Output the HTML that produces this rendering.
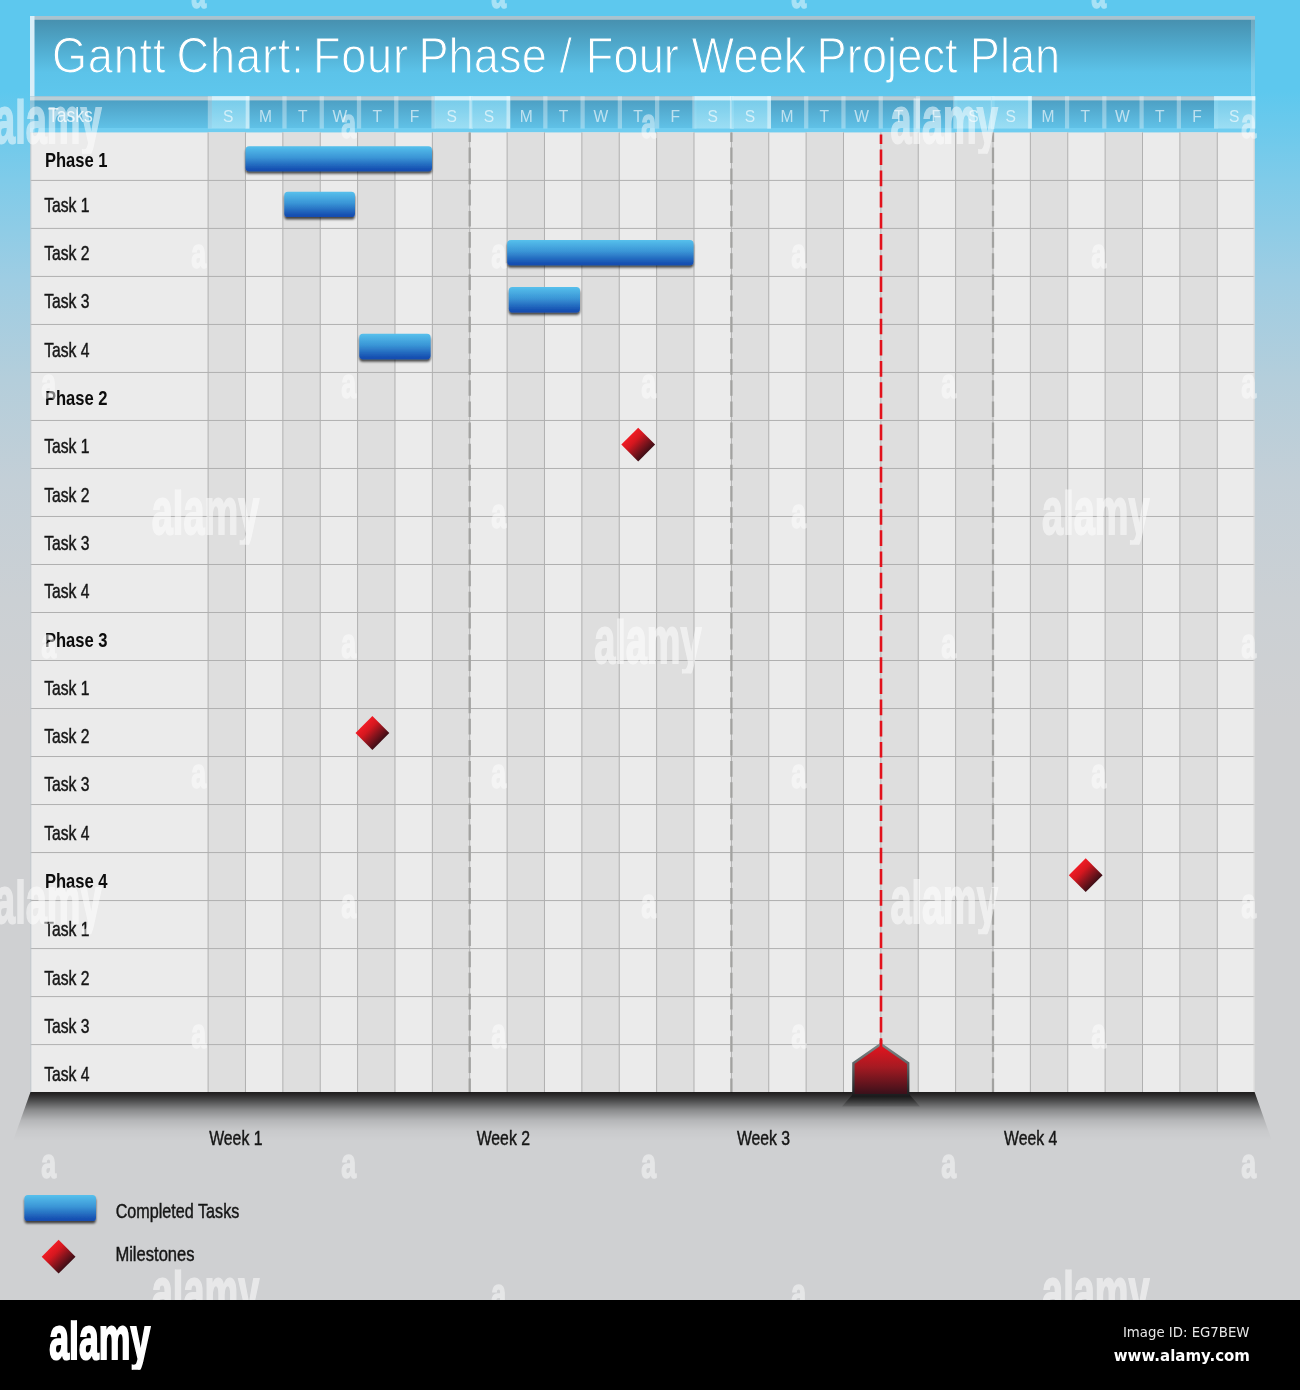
<!DOCTYPE html>
<html lang="en"><head><meta charset="utf-8">
<title>Gantt Chart: Four Phase / Four Week Project Plan</title>
<style>
html,body{margin:0;padding:0;background:#000;}
body{width:1300px;height:1390px;position:relative;overflow:hidden;font-family:"Liberation Sans",sans-serif;}
#bg{position:absolute;left:0;top:0;width:1300px;height:1300px;
background:linear-gradient(to bottom,#5dc8ee 0px,#5dc8ee 90px,#7fcbe9 180px,#9ecde3 280px,#b4cedb 380px,#c3cfd7 480px,#cbd0d4 600px,#cfd0d2 720px,#cfd0d2 1300px);}
svg{position:absolute;left:0;top:0;}
text{font-family:"Liberation Sans",sans-serif;}
.lab{font-size:20px;fill:#161616;stroke:#161616;stroke-width:.45px;}
.labb{font-size:20px;font-weight:bold;fill:#0c0c0c;}
.day{font-size:15.6px;fill:#fff;fill-opacity:.62;text-anchor:middle;}
#foot{position:absolute;left:0;top:1300px;width:1300px;height:90px;background:#000;}
</style></head><body>
<div id="bg"></div>
<svg width="1300" height="1390" viewBox="0 0 1300 1390">
<defs>
<linearGradient id="gTitle" x1="0" y1="0" x2="0" y2="1"><stop offset="0" stop-color="#468dab"/><stop offset=".35" stop-color="#4fa8cb"/><stop offset=".7" stop-color="#5cc3e9"/><stop offset="1" stop-color="#5ec7ed"/></linearGradient>
<linearGradient id="gTitleS" gradientUnits="userSpaceOnUse" x1="0" y1="-56.7" x2="0" y2="23.8"><stop offset="0" stop-color="#468dab"/><stop offset=".35" stop-color="#4fa8cb"/><stop offset=".7" stop-color="#5cc3e9"/><stop offset="1" stop-color="#5ec7ed"/></linearGradient>
<linearGradient id="gWk" x1="0" y1="0" x2="0" y2="1"><stop offset="0" stop-color="#79d0ee"/><stop offset="1" stop-color="#a4e2f6"/></linearGradient>
<linearGradient id="gHead" x1="0" y1="0" x2="0" y2="1"><stop offset="0" stop-color="#4a9bbf"/><stop offset="1" stop-color="#63c6ec"/></linearGradient>
<linearGradient id="gBar" x1="0" y1="0" x2="0" y2="1"><stop offset="0" stop-color="#56c0ec"/><stop offset=".45" stop-color="#3a95d6"/><stop offset=".9" stop-color="#1753b3"/><stop offset="1" stop-color="#114bb0"/></linearGradient>
<linearGradient id="gDia" x1=".25" y1=".25" x2=".75" y2=".75"><stop offset="0" stop-color="#f01b24"/><stop offset=".3" stop-color="#d5171f"/><stop offset=".62" stop-color="#8c141d"/><stop offset="1" stop-color="#3e0e16"/></linearGradient>
<linearGradient id="gMark" x1="0" y1="0" x2="0" y2="1"><stop offset="0" stop-color="#e8141e"/><stop offset=".45" stop-color="#a51a22"/><stop offset="1" stop-color="#35101a"/></linearGradient>
<linearGradient id="gMarkS" x1="0" y1="0" x2="0" y2="1"><stop offset="0" stop-color="#7d8888"/><stop offset=".45" stop-color="#5a6062"/><stop offset="1" stop-color="#1c1c1e"/></linearGradient>
<linearGradient id="gMarkC" x1="0" y1="0" x2="0" y2="1"><stop offset="0" stop-color="#000" stop-opacity=".55"/><stop offset="1" stop-color="#000" stop-opacity=".12"/></linearGradient>
<linearGradient id="gShadow" x1="0" y1="0" x2="0" y2="1"><stop offset="0" stop-color="#0a0808" stop-opacity=".9"/><stop offset=".05" stop-color="#0a0808" stop-opacity=".84"/><stop offset=".165" stop-color="#000" stop-opacity=".645"/><stop offset=".37" stop-color="#000" stop-opacity=".33"/><stop offset=".58" stop-color="#000" stop-opacity=".125"/><stop offset=".78" stop-color="#000" stop-opacity=".035"/><stop offset="1" stop-color="#000" stop-opacity="0"/></linearGradient>
<clipPath id="cW" clipPathUnits="userSpaceOnUse"><rect x="-20" y="-44.2" width="400" height="55.2"/></clipPath>
<filter id="ds" x="-5%" y="-20%" width="110%" height="160%"><feDropShadow dx="0" dy="2.4" stdDeviation="1.3" flood-color="#000" flood-opacity=".7"/></filter>
</defs>

<rect x="30" y="16" width="1225" height="80.5" fill="url(#gTitle)"/>
<rect x="30" y="16" width="1225" height="3.8" fill="#a9c3cf"/>
<rect x="30" y="16" width="4.5" height="80.5" fill="#d9eef8"/>
<rect x="1251" y="19.8" width="4" height="76" fill="#fff" fill-opacity=".22"/>
<text transform="translate(0 72.7) scale(0.903 1)" font-size="50" fill="#fff" stroke="url(#gTitleS)" stroke-width="1.1"><tspan x="57.59" letter-spacing="0.85">Gantt</tspan> <tspan x="195.46" letter-spacing="0.95">Chart:</tspan> <tspan x="346.62" letter-spacing="0.8">Four</tspan> <tspan x="463.34" letter-spacing="0.1">Phase</tspan> <tspan x="619.71">/</tspan> <tspan x="648.73" letter-spacing="0.1">Four</tspan> <tspan x="765.89" letter-spacing="0.1">Week</tspan> <tspan x="904.32" letter-spacing="0.1">Project</tspan> <tspan x="1073.98">Plan</tspan></text>
<rect x="30" y="96.2" width="1225" height="36" fill="url(#gHead)"/>
<rect x="30" y="96.2" width="1225" height="4.2" fill="#b9ced6"/>
<rect x="30" y="128" width="1225" height="4.2" fill="#6fcdf0"/>
<rect x="30" y="96.2" width="4.5" height="36" fill="#fff" fill-opacity=".35"/>
<rect x="207.8" y="96.2" width="4.3" height="32.3" fill="#fff" fill-opacity=".34"/>
<rect x="245.07" y="96.2" width="4.3" height="32.3" fill="#fff" fill-opacity=".34"/>
<rect x="282.34" y="96.2" width="4.29" height="32.3" fill="#fff" fill-opacity=".34"/>
<rect x="319.6" y="96.2" width="4.29" height="32.3" fill="#fff" fill-opacity=".34"/>
<rect x="356.87" y="96.2" width="4.28" height="32.3" fill="#fff" fill-opacity=".34"/>
<rect x="394.14" y="96.2" width="4.28" height="32.3" fill="#fff" fill-opacity=".34"/>
<rect x="431.41" y="96.2" width="4.28" height="32.3" fill="#fff" fill-opacity=".34"/>
<rect x="468.68" y="96.2" width="4.27" height="32.3" fill="#fff" fill-opacity=".34"/>
<rect x="505.94" y="96.2" width="4.27" height="32.3" fill="#fff" fill-opacity=".34"/>
<rect x="543.21" y="96.2" width="4.26" height="32.3" fill="#fff" fill-opacity=".34"/>
<rect x="580.48" y="96.2" width="4.26" height="32.3" fill="#fff" fill-opacity=".34"/>
<rect x="617.75" y="96.2" width="4.26" height="32.3" fill="#fff" fill-opacity=".34"/>
<rect x="655.02" y="96.2" width="4.25" height="32.3" fill="#fff" fill-opacity=".34"/>
<rect x="692.28" y="96.2" width="4.25" height="32.3" fill="#fff" fill-opacity=".34"/>
<rect x="729.55" y="96.2" width="4.24" height="32.3" fill="#fff" fill-opacity=".34"/>
<rect x="766.82" y="96.2" width="4.24" height="32.3" fill="#fff" fill-opacity=".34"/>
<rect x="804.09" y="96.2" width="4.24" height="32.3" fill="#fff" fill-opacity=".34"/>
<rect x="841.36" y="96.2" width="4.23" height="32.3" fill="#fff" fill-opacity=".34"/>
<rect x="878.62" y="96.2" width="4.23" height="32.3" fill="#fff" fill-opacity=".34"/>
<rect x="915.89" y="96.2" width="4.22" height="32.3" fill="#fff" fill-opacity=".34"/>
<rect x="953.16" y="96.2" width="4.22" height="32.3" fill="#fff" fill-opacity=".34"/>
<rect x="990.43" y="96.2" width="4.22" height="32.3" fill="#fff" fill-opacity=".34"/>
<rect x="1027.7" y="96.2" width="4.21" height="32.3" fill="#fff" fill-opacity=".34"/>
<rect x="1064.96" y="96.2" width="4.21" height="32.3" fill="#fff" fill-opacity=".34"/>
<rect x="1102.23" y="96.2" width="4.2" height="32.3" fill="#fff" fill-opacity=".34"/>
<rect x="1139.5" y="96.2" width="4.2" height="32.3" fill="#fff" fill-opacity=".34"/>
<rect x="1176.77" y="96.2" width="4.2" height="32.3" fill="#fff" fill-opacity=".34"/>
<rect x="1214.04" y="96.2" width="4.19" height="32.3" fill="#fff" fill-opacity=".34"/>
<rect x="211.9" y="96.2" width="37.48" height="32.3" fill="url(#gWk)" fill-opacity=".88"/>
<rect x="211.9" y="96.2" width="37.48" height="4.2" fill="#e6f6fb" fill-opacity=".85"/>
<rect x="245.78" y="96.2" width="3.6" height="32.3" fill="#fff" fill-opacity=".4"/>
<rect x="434.6" y="96.2" width="38.32" height="32.3" fill="url(#gWk)" fill-opacity=".88"/>
<rect x="434.6" y="96.2" width="38.32" height="4.2" fill="#e6f6fb" fill-opacity=".85"/>
<rect x="469.31" y="96.2" width="3.6" height="32.3" fill="#fff" fill-opacity=".4"/>
<rect x="471.71" y="96.2" width="38.46" height="32.3" fill="url(#gWk)" fill-opacity=".88"/>
<rect x="471.71" y="96.2" width="38.46" height="4.2" fill="#e6f6fb" fill-opacity=".85"/>
<rect x="506.57" y="96.2" width="3.6" height="32.3" fill="#fff" fill-opacity=".4"/>
<rect x="694.41" y="96.2" width="39.3" height="32.3" fill="url(#gWk)" fill-opacity=".88"/>
<rect x="694.41" y="96.2" width="39.3" height="4.2" fill="#e6f6fb" fill-opacity=".85"/>
<rect x="730.1" y="96.2" width="3.6" height="32.3" fill="#fff" fill-opacity=".4"/>
<rect x="731.52" y="96.2" width="39.44" height="32.3" fill="url(#gWk)" fill-opacity=".88"/>
<rect x="731.52" y="96.2" width="39.44" height="4.2" fill="#e6f6fb" fill-opacity=".85"/>
<rect x="767.36" y="96.2" width="3.6" height="32.3" fill="#fff" fill-opacity=".4"/>
<rect x="954.22" y="96.2" width="40.28" height="32.3" fill="url(#gWk)" fill-opacity=".88"/>
<rect x="954.22" y="96.2" width="40.28" height="4.2" fill="#e6f6fb" fill-opacity=".85"/>
<rect x="990.9" y="96.2" width="3.6" height="32.3" fill="#fff" fill-opacity=".4"/>
<rect x="991.34" y="96.2" width="40.42" height="32.3" fill="url(#gWk)" fill-opacity=".88"/>
<rect x="991.34" y="96.2" width="40.42" height="4.2" fill="#e6f6fb" fill-opacity=".85"/>
<rect x="1028.15" y="96.2" width="3.6" height="32.3" fill="#fff" fill-opacity=".4"/>
<rect x="1214.03" y="96.2" width="41.26" height="32.3" fill="url(#gWk)" fill-opacity=".88"/>
<rect x="1214.03" y="96.2" width="41.26" height="4.2" fill="#e6f6fb" fill-opacity=".85"/>
<rect x="1251.69" y="96.2" width="3.6" height="32.3" fill="#fff" fill-opacity=".4"/>
<text class="day" x="228.19" y="122.2">S</text>
<text class="day" x="265.45" y="122.2">M</text>
<text class="day" x="302.71" y="122.2">T</text>
<text class="day" x="339.97" y="122.2">W</text>
<text class="day" x="377.23" y="122.2">T</text>
<text class="day" x="414.49" y="122.2">F</text>
<text class="day" x="451.75" y="122.2">S</text>
<text class="day" x="489.01" y="122.2">S</text>
<text class="day" x="526.28" y="122.2">M</text>
<text class="day" x="563.54" y="122.2">T</text>
<text class="day" x="600.8" y="122.2">W</text>
<text class="day" x="638.06" y="122.2">T</text>
<text class="day" x="675.32" y="122.2">F</text>
<text class="day" x="712.58" y="122.2">S</text>
<text class="day" x="749.84" y="122.2">S</text>
<text class="day" x="787.1" y="122.2">M</text>
<text class="day" x="824.36" y="122.2">T</text>
<text class="day" x="861.62" y="122.2">W</text>
<text class="day" x="898.89" y="122.2">T</text>
<text class="day" x="936.15" y="122.2">F</text>
<text class="day" x="973.41" y="122.2">S</text>
<text class="day" x="1010.67" y="122.2">S</text>
<text class="day" x="1047.93" y="122.2">M</text>
<text class="day" x="1085.19" y="122.2">T</text>
<text class="day" x="1122.45" y="122.2">W</text>
<text class="day" x="1159.71" y="122.2">T</text>
<text class="day" x="1196.97" y="122.2">F</text>
<text class="day" x="1234.24" y="122.2">S</text>
<text transform="translate(48 121.5) scale(0.9 1)" font-size="19.5" fill="#fff" fill-opacity=".78">Tasks</text>
<rect x="30.5" y="132.4" width="1224.1" height="960.2" fill="#ebebeb"/>
<rect x="208.1" y="132.4" width="37.38" height="960.2" fill="#dedede"/>
<rect x="282.85" y="132.4" width="37.38" height="960.2" fill="#dedede"/>
<rect x="357.6" y="132.4" width="37.38" height="960.2" fill="#dedede"/>
<rect x="432.36" y="132.4" width="37.38" height="960.2" fill="#dedede"/>
<rect x="507.11" y="132.4" width="37.38" height="960.2" fill="#dedede"/>
<rect x="581.86" y="132.4" width="37.38" height="960.2" fill="#dedede"/>
<rect x="656.61" y="132.4" width="37.38" height="960.2" fill="#dedede"/>
<rect x="731.36" y="132.4" width="37.38" height="960.2" fill="#dedede"/>
<rect x="806.12" y="132.4" width="37.38" height="960.2" fill="#dedede"/>
<rect x="880.87" y="132.4" width="37.38" height="960.2" fill="#dedede"/>
<rect x="955.62" y="132.4" width="37.38" height="960.2" fill="#dedede"/>
<rect x="1030.37" y="132.4" width="37.38" height="960.2" fill="#dedede"/>
<rect x="1105.12" y="132.4" width="37.38" height="960.2" fill="#dedede"/>
<rect x="1179.88" y="132.4" width="37.38" height="960.2" fill="#dedede"/>
<path d="M208.1 132.4V1092.6M245.48 132.4V1092.6M282.85 132.4V1092.6M320.23 132.4V1092.6M357.6 132.4V1092.6M394.98 132.4V1092.6M432.36 132.4V1092.6M469.73 132.4V1092.6M507.11 132.4V1092.6M544.48 132.4V1092.6M581.86 132.4V1092.6M619.24 132.4V1092.6M656.61 132.4V1092.6M693.99 132.4V1092.6M731.36 132.4V1092.6M768.74 132.4V1092.6M806.12 132.4V1092.6M843.49 132.4V1092.6M880.87 132.4V1092.6M918.24 132.4V1092.6M955.62 132.4V1092.6M993 132.4V1092.6M1030.37 132.4V1092.6M1067.75 132.4V1092.6M1105.12 132.4V1092.6M1142.5 132.4V1092.6M1179.88 132.4V1092.6M1217.25 132.4V1092.6M30.5 180.41H1254.6M30.5 228.42H1254.6M30.5 276.43H1254.6M30.5 324.44H1254.6M30.5 372.45H1254.6M30.5 420.46H1254.6M30.5 468.47H1254.6M30.5 516.48H1254.6M30.5 564.49H1254.6M30.5 612.5H1254.6M30.5 660.51H1254.6M30.5 708.52H1254.6M30.5 756.53H1254.6M30.5 804.54H1254.6M30.5 852.55H1254.6M30.5 900.56H1254.6M30.5 948.57H1254.6M30.5 996.58H1254.6M30.5 1044.59H1254.6" stroke="#b0b0b0" stroke-width="1" fill="none"/>
<path d="M30.8 132.4V1092.6" stroke="#bcc4c8" stroke-width="1" fill="none"/>
<path d="M1254.1 132.4V1092.6" stroke="#d6d6d6" stroke-width="1" fill="none"/>
<path d="M469.7 132.4V1092.6" stroke="#a2a2a0" stroke-width="2.3" stroke-dasharray="15.6 5.56" stroke-dashoffset="6.1" fill="none"/>
<path d="M731.4 132.4V1092.6" stroke="#a2a2a0" stroke-width="2.3" stroke-dasharray="15.6 5.56" stroke-dashoffset="6.1" fill="none"/>
<path d="M993 132.4V1092.6" stroke="#a2a2a0" stroke-width="2.3" stroke-dasharray="15.6 5.56" stroke-dashoffset="6.1" fill="none"/>
<text class="labb" transform="translate(44.9 166.5) scale(0.83 1)">Phase 1</text>
<text class="lab" transform="translate(44.2 211.8) scale(0.785 1)">Task 1</text>
<text class="lab" transform="translate(44.2 260.1) scale(0.785 1)">Task 2</text>
<text class="lab" transform="translate(44.2 308.4) scale(0.785 1)">Task 3</text>
<text class="lab" transform="translate(44.2 356.7) scale(0.785 1)">Task 4</text>
<text class="labb" transform="translate(44.9 405) scale(0.83 1)">Phase 2</text>
<text class="lab" transform="translate(44.2 453.3) scale(0.785 1)">Task 1</text>
<text class="lab" transform="translate(44.2 501.6) scale(0.785 1)">Task 2</text>
<text class="lab" transform="translate(44.2 549.9) scale(0.785 1)">Task 3</text>
<text class="lab" transform="translate(44.2 598.2) scale(0.785 1)">Task 4</text>
<text class="labb" transform="translate(44.9 646.5) scale(0.83 1)">Phase 3</text>
<text class="lab" transform="translate(44.2 694.8) scale(0.785 1)">Task 1</text>
<text class="lab" transform="translate(44.2 743.1) scale(0.785 1)">Task 2</text>
<text class="lab" transform="translate(44.2 791.4) scale(0.785 1)">Task 3</text>
<text class="lab" transform="translate(44.2 839.7) scale(0.785 1)">Task 4</text>
<text class="labb" transform="translate(44.9 888) scale(0.83 1)">Phase 4</text>
<text class="lab" transform="translate(44.2 936.3) scale(0.785 1)">Task 1</text>
<text class="lab" transform="translate(44.2 984.6) scale(0.785 1)">Task 2</text>
<text class="lab" transform="translate(44.2 1032.9) scale(0.785 1)">Task 3</text>
<text class="lab" transform="translate(44.2 1081.2) scale(0.785 1)">Task 4</text>
<rect x="245.5" y="146.3" width="186.5" height="25" rx="3.6" ry="3.6" fill="url(#gBar)" filter="url(#ds)"/>
<rect x="284.3" y="191.8" width="70.7" height="25.2" rx="3.6" ry="3.6" fill="url(#gBar)" filter="url(#ds)"/>
<rect x="507.2" y="240" width="186.3" height="25.3" rx="3.6" ry="3.6" fill="url(#gBar)" filter="url(#ds)"/>
<rect x="508.8" y="287" width="71.2" height="25.4" rx="3.6" ry="3.6" fill="url(#gBar)" filter="url(#ds)"/>
<rect x="359.3" y="333.8" width="71.3" height="25.4" rx="3.6" ry="3.6" fill="url(#gBar)" filter="url(#ds)"/>
<rect x="24.4" y="1195" width="71.6" height="26" rx="3.6" ry="3.6" fill="url(#gBar)" filter="url(#ds)"/>
<path d="M881 134.4V1047" stroke="#e2111b" stroke-width="2.6" stroke-dasharray="15.6 5.56" stroke-dashoffset="6.1" fill="none"/>
<polygon points="30.5,1092.1 1254.6,1092.1 1272,1141 13,1141" fill="url(#gShadow)"/>
<polygon points="853,1094 909,1094 920,1106.5 842,1106.5" fill="url(#gMarkC)"/>
<polygon points="880.8,1044 908.2,1063.2 908.2,1095.3 853.4,1095.3 853.4,1063.2" fill="url(#gMark)" stroke="url(#gMarkS)" stroke-width="2.4" stroke-linejoin="miter"/>
<path d="M881 1040V1047" stroke="#e2111b" stroke-width="2.6" fill="none"/>
<polygon points="638.2,427.7 655.1,444.6 638.2,461.5 621.3,444.6" fill="url(#gDia)"/>
<polygon points="372.4,716.1 389.3,733 372.4,749.9 355.5,733" fill="url(#gDia)"/>
<polygon points="1085.7,858.3 1102.6,875.2 1085.7,892.1 1068.8,875.2" fill="url(#gDia)"/>
<polygon points="58.6,1239.8 75.5,1256.7 58.6,1273.6 41.7,1256.7" fill="url(#gDia)"/>
<text class="lab" transform="translate(209.2 1144.7) scale(0.79 1)">Week 1</text>
<text class="lab" transform="translate(476.7 1144.7) scale(0.79 1)">Week 2</text>
<text class="lab" transform="translate(736.9 1144.7) scale(0.79 1)">Week 3</text>
<text class="lab" transform="translate(1004.1 1144.7) scale(0.79 1)">Week 4</text>
<text class="lab" transform="translate(115.7 1217.6) scale(0.808 1)">Completed Tasks</text>
<text class="lab" transform="translate(115.4 1260.6) scale(0.828 1)">Milestones</text>
<g opacity=".52" fill="#fff" stroke="#fff" stroke-width="1.9" font-weight="bold">
<text transform="translate(-5.9 142.7) scale(0.574 1)" font-size="66" clip-path="url(#cW)">alamy</text>
<text transform="translate(890.4 142.7) scale(0.574 1)" font-size="66" clip-path="url(#cW)">alamy</text>
<text transform="translate(151.8 533.8) scale(0.574 1)" font-size="66" clip-path="url(#cW)">alamy</text>
<text transform="translate(1042.1 533.8) scale(0.574 1)" font-size="66" clip-path="url(#cW)">alamy</text>
<text transform="translate(594.2 662.6) scale(0.574 1)" font-size="66" clip-path="url(#cW)">alamy</text>
<text transform="translate(-5.9 923.2) scale(0.574 1)" font-size="66" clip-path="url(#cW)">alamy</text>
<text transform="translate(890.4 923.2) scale(0.574 1)" font-size="66" clip-path="url(#cW)">alamy</text>
<text transform="translate(151.8 1313.8) scale(0.574 1)" font-size="66" clip-path="url(#cW)">alamy</text>
<text transform="translate(1042.1 1313.8) scale(0.574 1)" font-size="66" clip-path="url(#cW)">alamy</text>
</g>
<g opacity=".47" fill="#fff" stroke="#fff" stroke-width="1.6" font-weight="bold">
<text transform="translate(191.3 7.8) scale(0.62 1)" font-size="43">a</text>
<text transform="translate(491.3 7.8) scale(0.62 1)" font-size="43">a</text>
<text transform="translate(791.3 7.8) scale(0.62 1)" font-size="43">a</text>
<text transform="translate(1091.3 7.8) scale(0.62 1)" font-size="43">a</text>
<text transform="translate(191.3 267.9) scale(0.62 1)" font-size="43">a</text>
<text transform="translate(491.3 267.9) scale(0.62 1)" font-size="43">a</text>
<text transform="translate(791.3 267.9) scale(0.62 1)" font-size="43">a</text>
<text transform="translate(1091.3 267.9) scale(0.62 1)" font-size="43">a</text>
<text transform="translate(491.3 528) scale(0.62 1)" font-size="43">a</text>
<text transform="translate(791.3 528) scale(0.62 1)" font-size="43">a</text>
<text transform="translate(191.3 788.2) scale(0.62 1)" font-size="43">a</text>
<text transform="translate(491.3 788.2) scale(0.62 1)" font-size="43">a</text>
<text transform="translate(791.3 788.2) scale(0.62 1)" font-size="43">a</text>
<text transform="translate(1091.3 788.2) scale(0.62 1)" font-size="43">a</text>
<text transform="translate(191.3 1048.3) scale(0.62 1)" font-size="43">a</text>
<text transform="translate(491.3 1048.3) scale(0.62 1)" font-size="43">a</text>
<text transform="translate(791.3 1048.3) scale(0.62 1)" font-size="43">a</text>
<text transform="translate(1091.3 1048.3) scale(0.62 1)" font-size="43">a</text>
<text transform="translate(491.3 1308.4) scale(0.62 1)" font-size="43">a</text>
<text transform="translate(791.3 1308.4) scale(0.62 1)" font-size="43">a</text>
<text transform="translate(341.2 137.9) scale(0.62 1)" font-size="43">a</text>
<text transform="translate(641.2 137.9) scale(0.62 1)" font-size="43">a</text>
<text transform="translate(1241.2 137.9) scale(0.62 1)" font-size="43">a</text>
<text transform="translate(41.2 398) scale(0.62 1)" font-size="43">a</text>
<text transform="translate(341.2 398) scale(0.62 1)" font-size="43">a</text>
<text transform="translate(641.2 398) scale(0.62 1)" font-size="43">a</text>
<text transform="translate(941.2 398) scale(0.62 1)" font-size="43">a</text>
<text transform="translate(1241.2 398) scale(0.62 1)" font-size="43">a</text>
<text transform="translate(41.2 658.1) scale(0.62 1)" font-size="43">a</text>
<text transform="translate(341.2 658.1) scale(0.62 1)" font-size="43">a</text>
<text transform="translate(941.2 658.1) scale(0.62 1)" font-size="43">a</text>
<text transform="translate(1241.2 658.1) scale(0.62 1)" font-size="43">a</text>
<text transform="translate(341.2 918.2) scale(0.62 1)" font-size="43">a</text>
<text transform="translate(641.2 918.2) scale(0.62 1)" font-size="43">a</text>
<text transform="translate(1241.2 918.2) scale(0.62 1)" font-size="43">a</text>
<text transform="translate(41.2 1178.3) scale(0.62 1)" font-size="43">a</text>
<text transform="translate(341.2 1178.3) scale(0.62 1)" font-size="43">a</text>
<text transform="translate(641.2 1178.3) scale(0.62 1)" font-size="43">a</text>
<text transform="translate(941.2 1178.3) scale(0.62 1)" font-size="43">a</text>
<text transform="translate(1241.2 1178.3) scale(0.62 1)" font-size="43">a</text>
</g>
<rect x="0" y="1300" width="1300" height="90" fill="#000"/>
</svg>
<div id="foot">
<svg width="1300" height="90" viewBox="0 1300 1300 90">
<defs><clipPath id="cF" clipPathUnits="userSpaceOnUse"><rect x="-20" y="-39.2" width="400" height="49.6"/></clipPath></defs>
<text transform="translate(49.3 1359.4) scale(0.575 1)" font-size="62" font-weight="bold" fill="#fff" stroke="#fff" stroke-width="2.2" clip-path="url(#cF)">alamy</text>
<text x="1249.5" y="1337" text-anchor="end" font-size="13.3" fill="#e8e8e8" style="font-family:'DejaVu Sans','Liberation Sans',sans-serif">Image ID: EG7BEW</text>
<text x="1250" y="1360.6" text-anchor="end" font-size="15" font-weight="bold" fill="#fff" style="font-family:'DejaVu Sans','Liberation Sans',sans-serif">www.alamy.com</text>
</svg></div>
</body></html>
